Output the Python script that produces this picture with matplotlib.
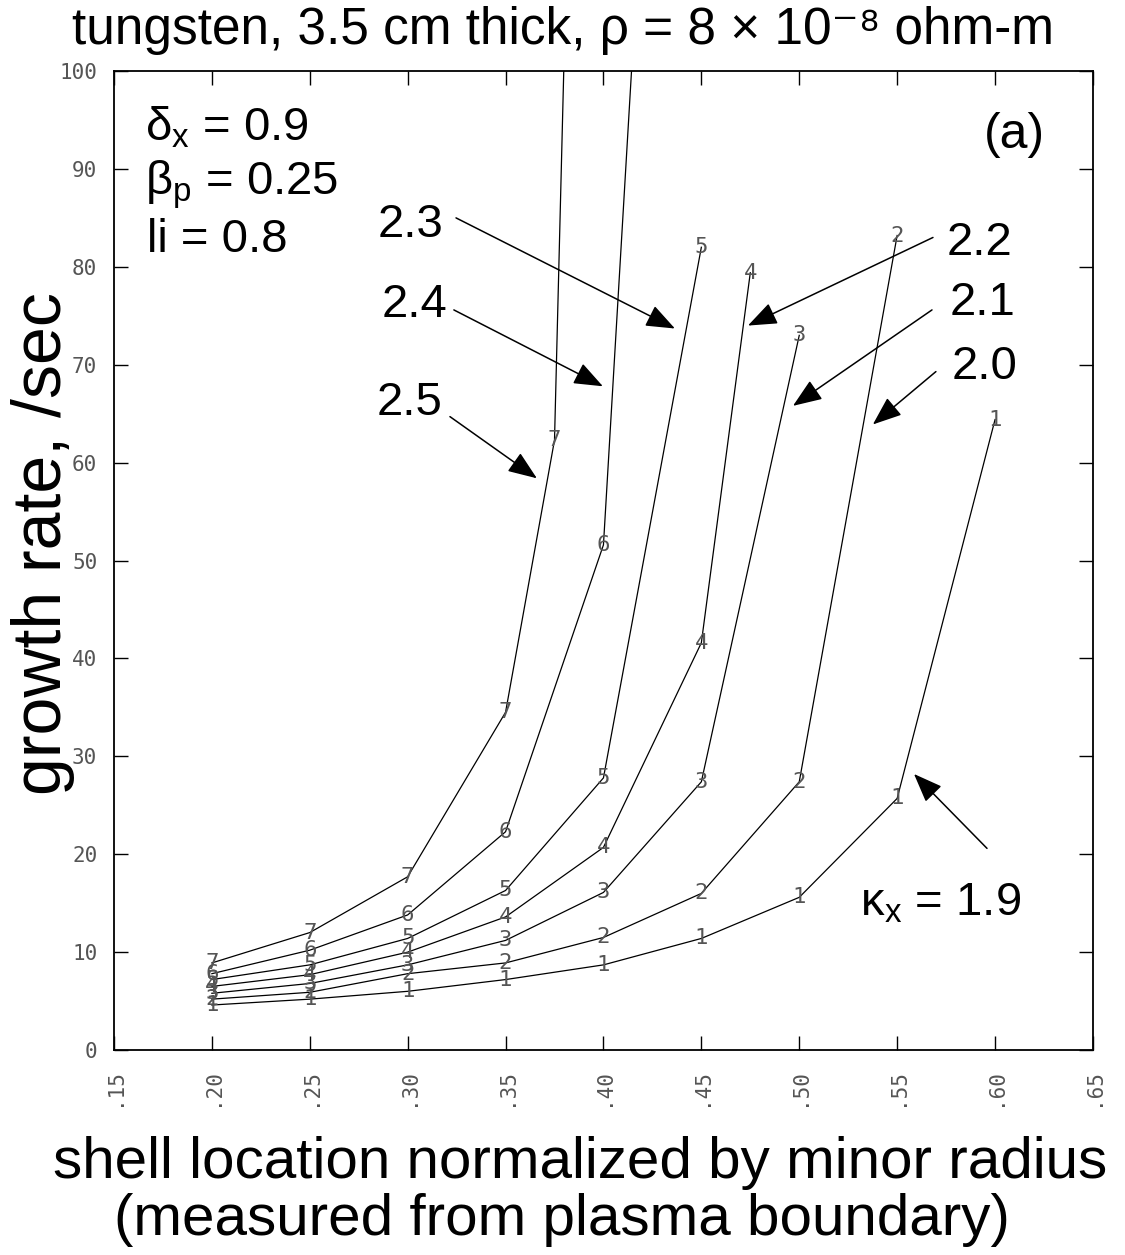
## Growth rate vs shell location for tungsten shell, kappa_x scan
import matplotlib
matplotlib.use("Agg")
import matplotlib.pyplot as plt

plt.rcParams['font.family'] = ['Liberation Sans', 'DejaVu Sans']
plt.rcParams['mathtext.fontset'] = 'custom'
plt.rcParams['mathtext.rm'] = 'Liberation Sans'
plt.rcParams['mathtext.it'] = 'Liberation Sans:italic'

## data (x = shell location / a, y = growth rate /sec)
k19_x = [0.20, 0.25, 0.30, 0.35, 0.40, 0.45, 0.50, 0.55, 0.60]
k19_y = [4.6, 5.2, 6.0, 7.2, 8.7, 11.4, 15.6, 25.7, 64.4]
k20_x = [0.20, 0.25, 0.30, 0.35, 0.40, 0.45, 0.50, 0.55]
k20_y = [5.2, 5.9, 7.8, 8.9, 11.5, 16.0, 27.4, 83.2]
k21_x = [0.20, 0.25, 0.30, 0.35, 0.40, 0.45, 0.50]
k21_y = [5.8, 6.8, 8.7, 11.2, 16.1, 27.4, 73.0]
k22_x = [0.20, 0.25, 0.30, 0.35, 0.40, 0.45, 0.475]
k22_y = [6.5, 7.7, 10.0, 13.6, 20.7, 41.6, 79.4]
k23_x = [0.20, 0.25, 0.30, 0.35, 0.40, 0.45]
k23_y = [7.2, 8.7, 11.4, 16.3, 27.8, 82.0]
k24_x = [0.20, 0.25, 0.30, 0.35, 0.40, 0.425]
k24_y = [7.8, 10.2, 13.8, 22.3, 51.6, 136.0]
k25_x = [0.20, 0.25, 0.30, 0.35, 0.375, 0.39]
k25_y = [8.9, 12.0, 17.7, 34.5, 62.3, 182.0]

series_x = [k19_x, k20_x, k21_x, k22_x, k23_x, k24_x, k25_x]
series_y = [k19_y, k20_y, k21_y, k22_y, k23_y, k24_y, k25_y]
point_marks = ['1', '2', '3', '4', '5', '6', '7']
kappa_labels = ['2.0', '2.1', '2.2', '2.3', '2.4', '2.5']

x_ticks = [0.15, 0.20, 0.25, 0.30, 0.35, 0.40, 0.45, 0.50, 0.55, 0.60, 0.65]
x_ticklabels = ['.15', '.20', '.25', '.30', '.35', '.40', '.45', '.50', '.55', '.60', '.65']
y_ticks = [0, 10, 20, 30, 40, 50, 60, 70, 80, 90, 100]
y_max = 100

fig = plt.figure(figsize=(11.25, 12.55), dpi=100)
ax = fig.add_axes([0.1013, 0.1633, 0.8702, 0.7801])

## curves, each vertex tagged with its curve number (only the ones inside the frame)
for xs, ys, mk in zip(series_x, series_y, point_marks):
    ax.plot(xs, ys, color='black', lw=0.9)
    for x, y in zip(xs, ys):
        if y > y_max:
            continue
        ax.text(x, y, mk, ha='center', va='center', fontsize=16, color='#555',
                family='DejaVu Sans Mono')

ax.set_xlim(0.15, 0.65)
ax.set_ylim(0, y_max)
ax.set_xticks(x_ticks)
ax.set_xticklabels(x_ticklabels, rotation=90, family='DejaVu Sans Mono',
                   fontsize=15, color='#555')
ax.set_yticks(y_ticks)
ax.set_yticklabels([str(v) for v in y_ticks], family='DejaVu Sans Mono',
                   fontsize=15, color='#555')
ax.tick_params(direction='in', length=10, width=1, top=True, right=True,
               labeltop=False, labelright=False)
ax.tick_params(axis='x', pad=13)
ax.tick_params(axis='y', pad=12)
for sp in ax.spines.values():
    sp.set_linewidth(1.3)

## parameter block and panel tag
ax.text(0.1658, 94.2, r'$\mathrm{\delta}_{\mathrm{x}}$ = 0.9', fontsize=34, va='center')
ax.text(0.1658, 88.4, r'$\mathrm{\beta}_{\mathrm{p}}$ = 0.25', fontsize=34, va='center')
ax.text(0.1670, 82.7, 'li = 0.8', fontsize=34, va='center')
ax.text(0.610, 93.5, '(a)', fontsize=36, ha='center', va='center')

## kappa labels with arrows
lab_pos = [(0.5948, 69.8), (0.5938, 76.3), (0.5923, 82.4),
           (0.3017, 84.3), (0.3037, 76.1), (0.3012, 66.1)]
arr_from = [(0.5698, 69.3), (0.5678, 75.6), (0.5683, 83.0),
            (0.3247, 85.0), (0.3236, 75.6), (0.3216, 64.7)]
arr_to = [(0.5376, 63.9), (0.4968, 65.8), (0.4738, 74.0),
          (0.4365, 73.7), (0.3997, 67.8), (0.3660, 58.4)]
for lab, p, a0, a1 in zip(kappa_labels, lab_pos, arr_from, arr_to):
    ax.text(p[0], p[1], lab, fontsize=34, ha='center', va='center')
    ax.annotate('', xy=a1, xytext=a0,
                arrowprops=dict(arrowstyle='-|>,head_length=0.9,head_width=0.35',
                                mutation_scale=20, color='black', lw=1.1,
                                shrinkA=0, shrinkB=0))

ax.text(0.5724, 15.0, r'$\mathrm{\kappa}_{\mathrm{x}}$ = 1.9', fontsize=34,
        ha='center', va='center')
ax.annotate('', xy=(0.5586, 28.2), xytext=(0.5959, 20.6),
            arrowprops=dict(arrowstyle='-|>,head_length=0.9,head_width=0.35',
                            mutation_scale=20, color='black', lw=1.1,
                            shrinkA=0, shrinkB=0))

## titles
fig.text(0.5, 1 - 44 / 1255, 'tungsten, 3.5 cm thick, ρ = 8 × 10⁻⁸ ohm-m',
         fontsize=37, ha='center', va='baseline')
fig.text(0.038, 1 - 544 / 1255, 'growth rate, /sec', fontsize=49, rotation=90,
         ha='center', va='center')
fig.text(580 / 1125, 1 - 1163 / 1255, 'shell location normalized by minor radius',
         fontsize=42, ha='center', va='center')
fig.text(562 / 1125, 1 - 1220 / 1255, '(measured from plasma boundary)',
         fontsize=42, ha='center', va='center')

fig.savefig('out.png', dpi=100)
